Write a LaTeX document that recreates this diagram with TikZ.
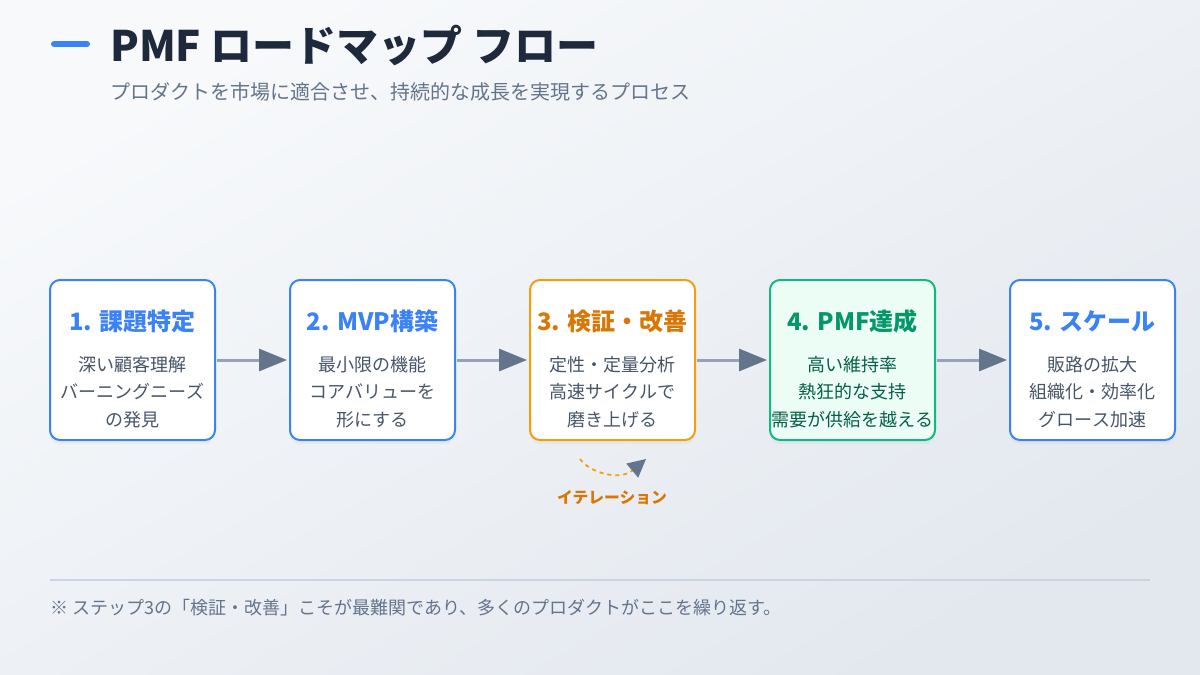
\documentclass[tikz,border=0pt]{standalone}
\usepackage{fontspec}
\setmainfont{Noto Sans CJK JP}
\usetikzlibrary{arrows.meta,shadows}
\definecolor{bgA}{HTML}{F7F9FB}
\definecolor{bgB}{HTML}{E3E8EF}
\definecolor{accent}{HTML}{3B82F6}
\definecolor{titlec}{HTML}{1E293B}
\definecolor{subc}{HTML}{64748B}
\definecolor{bodyc}{HTML}{475569}
\definecolor{orangeb}{HTML}{F59E0B}
\definecolor{oranget}{HTML}{D97706}
\definecolor{greenb}{HTML}{10B981}
\definecolor{greent}{HTML}{059669}
\definecolor{greenbody}{HTML}{065F46}
\definecolor{greenfill}{HTML}{ECFDF5}
\definecolor{linec}{HTML}{94A3B8}
\definecolor{headc}{HTML}{64748B}
\definecolor{rulec}{HTML}{CBD5E1}
\tikzset{
  stepbox/.style={draw=accent, fill=white, line width=2pt, rounded corners=10pt,
    minimum width=165pt, minimum height=160pt, inner sep=0pt,
    drop shadow={opacity=0.06, shadow xshift=0pt, shadow yshift=-4pt}},
  boxtitle/.style={font=\fontsize{24}{28}\selectfont\bfseries, text=accent, inner sep=0pt},
  boxbody/.style={font=\fontsize{18}{27.5}\selectfont, text=bodyc, align=center, inner sep=0pt},
  flow/.style={draw=linec, line width=3pt, shorten <=1pt, shorten >=2pt,
    -{Triangle[length=28pt,width=22pt,color=headc,fill=headc]}},
}
\begin{document}
\begin{tikzpicture}[x=1pt,y=-1pt]
\useasboundingbox (0,0) rectangle (1200,675);
\shade[top color=bgA, bottom color=bgB, shading angle=30] (0,0) rectangle (1200,675);
% header
\coordinate (barA) at (54,44);
\coordinate (barB) at (87,44);
\draw[accent, line width=6pt, line cap=round] (barA) -- (barB);
\node[anchor=west, inner sep=0pt, text=titlec, font=\fontsize{42}{46}\selectfont\bfseries] (title) at (110,45) {PMF ロードマップ フロー};
\node[anchor=west, inner sep=0pt, text=subc, font=\fontsize{20}{24}\selectfont] (subtitle) at (110,92) {プロダクトを市場に適合させ、持続的な成長を実現するプロセス};
% boxes
\node[stepbox] (b1) at (132.5,360) {};
\node[stepbox] (b2) at (372.5,360) {};
\node[stepbox, draw=orangeb] (b3) at (612.5,360) {};
\node[stepbox, draw=greenb, fill=greenfill] (b4) at (852.5,360) {};
\node[stepbox] (b5) at (1092.5,360) {};
\node[boxtitle] (t1) at (132.5,321) {1. 課題特定};
\node[boxtitle] (t2) at (372.5,321) {2. MVP構築};
\node[boxtitle, text=oranget] (t3) at (612.5,321) {3. 検証・改善};
\node[boxtitle, text=greent] (t4) at (852.5,321) {4. PMF達成};
\node[boxtitle] (t5) at (1092.5,321) {5. スケール};
\node[boxbody] (d1) at (132.5,392) {深い顧客理解\\バーニングニーズ\\の発見};
\node[boxbody] (d2) at (372.5,392) {最小限の機能\\コアバリューを\\形にする};
\node[boxbody] (d3) at (612.5,392) {定性・定量分析\\高速サイクルで\\磨き上げる};
\node[boxbody, text=greenbody] (d4) at (852.5,392) {高い維持率\\熱狂的な支持\\需要が供給を越える};
\node[boxbody] (d5) at (1092.5,392) {販路の拡大\\組織化・効率化\\グロース加速};
% flow arrows
\draw[flow] (b1.east) -- (b2.west);
\draw[flow] (b2.east) -- (b3.west);
\draw[flow] (b3.east) -- (b4.west);
\draw[flow] (b4.east) -- (b5.west);
% iteration
\coordinate (itA) at (580,459);
\coordinate (itB) at (646,459);
\draw[orangeb, line width=1.8pt, dash pattern=on 4pt off 4pt,
  -{Triangle[length=18pt,width=18pt,color=headc,fill=headc]}]
  (itA) .. controls (590,473) and (620,481) .. (itB);
\node[inner sep=0pt, text=oranget, font=\fontsize{15.8}{18}\selectfont\bfseries] (itlabel) at (612,498) {イテレーション};
% footer
\coordinate (ruleA) at (50,580);
\coordinate (ruleB) at (1150,580);
\draw[rulec, line width=1.2pt] (ruleA) -- (ruleB);
\node[anchor=west, inner sep=0pt, text=subc, font=\fontsize{18}{22}\selectfont] (note) at (50,608) {※ ステップ3の「検証・改善」こそが最難関であり、多くのプロダクトがここを繰り返す。};
\end{tikzpicture}
\end{document}
